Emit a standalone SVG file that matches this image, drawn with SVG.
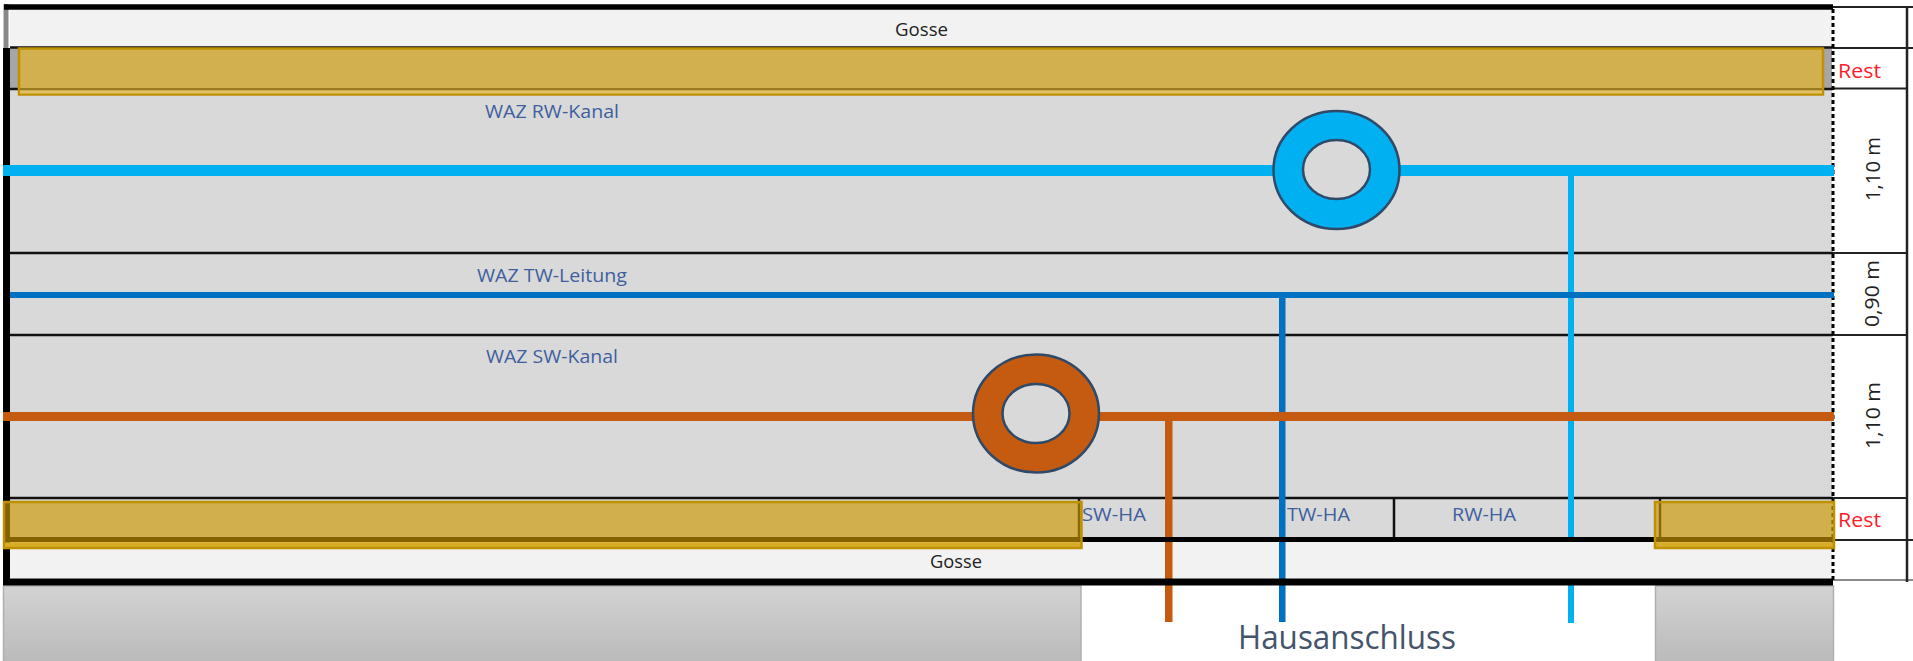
<svg xmlns="http://www.w3.org/2000/svg" width="1913" height="661" viewBox="0 0 1913 661">
<style>
text{font-family:"Open Sans","Noto Sans","Liberation Sans",sans-serif}
.lbl{font-size:18px;fill:#3f5f9f}
.gos{font-size:18px;fill:#222}
.rest{font-size:20px;fill:#ff1a2a}
.dim{font-size:20px;fill:#222}
.gold{fill:#ce9900;fill-opacity:.645;stroke:#bf9000;stroke-width:2.5}
.goldsolid{fill:#d2b050;stroke:#bf9000;stroke-width:2.5}
.stripe{fill:#eccf6e}
.thin{stroke:#111;stroke-width:2.5;fill:none}
.cell{stroke:#222;stroke-width:2;fill:none}
.thick{stroke:#000;fill:none}
.ring{stroke:#2f4a68;stroke-width:2.5}
.hole{fill:#d9d9d9;stroke:#2f4a68;stroke-width:2.5}
.rw{fill:#00b0f0}.tw{fill:#0070c0}.sw{fill:#c55a11}
.ground{fill:url(#g);stroke:#b0b0b0;stroke-width:1.5}
</style>
<defs>
<linearGradient id="g" x1="0" y1="0" x2="0" y2="1"><stop offset="0" stop-color="#d3d3d3"/><stop offset="1" stop-color="#bababa"/></linearGradient>
</defs>
<rect width="1913" height="661" fill="#fff"/>
<g id="background">
<rect x="10" y="9" width="1822" height="39" fill="#f2f2f2"/>
<rect x="10" y="48" width="1822" height="41" fill="#a6a6a6"/>
<rect x="10" y="89" width="1822" height="449" fill="#d9d9d9"/>
<rect x="10" y="542" width="1822" height="36" fill="#f2f2f2"/>
</g>
<g id="ground-left"><rect class="ground" x="3.500" y="586" width="1077.500" height="76"/></g>
<g id="ground-right"><rect class="ground" x="1655.500" y="586" width="178" height="76"/></g>
<g id="grid">
<path class="thin" d="M10 47.500H1833M10 89H1833M10 253H1833M10 335H1833M10 498H1833"/>
<path class="cell" d="M1833 7H1913M1833 48H1913M1833 88.500H1907M1833 253H1907M1833 335H1907M1833 498H1907M1833 540H1913"/>
<path d="M1833 580H1913" stroke="#666" stroke-width="1.500"/>
<path d="M1907 6V582" stroke="#222" stroke-width="2.500"/>
<path class="thin" d="M1079 498V538M1394 498V538M1660 498V538"/>
<path d="M1833 9V582" stroke="#000" stroke-width="3" stroke-dasharray="4 3"/>
</g>
<g id="verticals">
<rect class="rw" x="1568" y="176" width="6" height="362"/>
<rect class="rw" x="1568" y="584" width="6" height="39"/>
<rect class="tw" x="1279" y="297" width="6.500" height="325"/>
<rect class="sw" x="1165" y="420" width="7.500" height="202"/>
</g>
<g id="frame">
<path class="thick" stroke-width="7" d="M6.500 48V582"/>
<path stroke="#888" stroke-width="5" d="M6 4V48"/>
<path class="thick" stroke-width="5.500" d="M4 7H1833"/>
<path class="thick" stroke-width="5" d="M10 539.500H1833"/>
<path class="thick" stroke-width="7" d="M3 582H1833"/>
</g>
<g id="connectors">
<rect class="tw" x="10" y="292" width="1824" height="6"/>
<rect class="rw" x="3" y="165" width="1831" height="11"/>
<rect class="sw" x="3" y="412" width="1831" height="9"/>
</g>
<g id="gold-top"><rect class="goldsolid" x="19" y="48.500" width="1804" height="46"/><rect x="20" y="88" width="1802" height="2.500" fill="#9a7a20"/><rect x="20" y="90.500" width="1802" height="3" fill="#e0c264"/></g>
<g id="gold-left"><rect class="stripe" x="4" y="542.500" width="1077" height="5"/><rect class="gold" x="4" y="502" width="1077.500" height="46"/></g>
<g id="gold-right"><rect class="stripe" x="1656" y="542.500" width="177" height="5"/><rect class="gold" x="1655" y="502" width="179" height="46"/></g>
<g id="ring-rw"><ellipse class="ring rw" cx="1336.500" cy="170" rx="63" ry="59"/><ellipse class="hole" cx="1336.500" cy="169.500" rx="33.500" ry="29.500"/></g>
<g id="ring-sw"><ellipse class="ring sw" cx="1036" cy="413.500" rx="63" ry="59"/><ellipse class="hole" cx="1036" cy="413.500" rx="33.500" ry="29.500"/></g>
<g id="labels">
<text class="gos" x="895" y="36" textLength="53" lengthAdjust="spacingAndGlyphs">Gosse</text>
<text class="gos" x="930" y="568" textLength="52" lengthAdjust="spacingAndGlyphs">Gosse</text>
<text class="lbl" x="485" y="118" textLength="134" lengthAdjust="spacingAndGlyphs">WAZ RW-Kanal</text>
<text class="lbl" x="477" y="282" textLength="150" lengthAdjust="spacingAndGlyphs">WAZ TW-Leitung</text>
<text class="lbl" x="486" y="363" textLength="132" lengthAdjust="spacingAndGlyphs">WAZ SW-Kanal</text>
<text class="lbl" x="1082" y="521" textLength="64" lengthAdjust="spacingAndGlyphs">SW-HA</text>
<text class="lbl" x="1287" y="521" textLength="63" lengthAdjust="spacingAndGlyphs">TW-HA</text>
<text class="lbl" x="1452" y="521" textLength="64" lengthAdjust="spacingAndGlyphs">RW-HA</text>
<text class="rest" x="1838" y="78" textLength="43" lengthAdjust="spacingAndGlyphs">Rest</text>
<text class="rest" x="1838" y="527" textLength="43" lengthAdjust="spacingAndGlyphs">Rest</text>
<text class="dim" transform="translate(1880 201) rotate(-90)" textLength="64" lengthAdjust="spacingAndGlyphs">1,10 m</text>
<text class="dim" transform="translate(1879 327) rotate(-90)" textLength="67" lengthAdjust="spacingAndGlyphs">0,90 m</text>
<text class="dim" transform="translate(1880 449) rotate(-90)" textLength="67" lengthAdjust="spacingAndGlyphs">1,10 m</text>
<text x="1238" y="649" font-size="32" fill="#44546a" textLength="218" lengthAdjust="spacingAndGlyphs">Hausanschluss</text>
</g>
</svg>
